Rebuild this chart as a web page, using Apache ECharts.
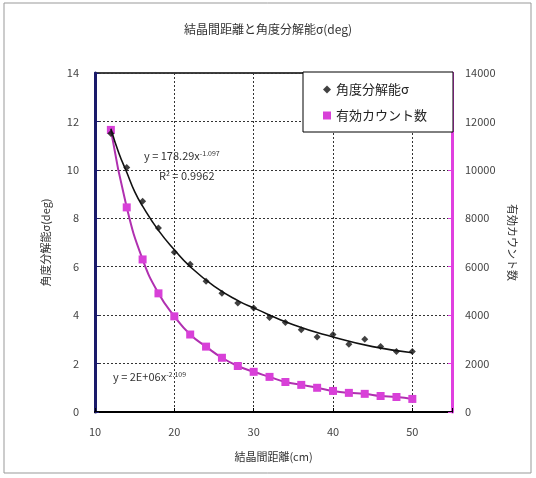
<!DOCTYPE html>
<html><head><meta charset="utf-8">
<script src="https://cdn.jsdelivr.net/npm/echarts@6/dist/echarts.min.js"></script>
<style>html,body{margin:0;padding:0;background:#fff}#c{width:536px;height:478px}</style>
</head><body><div id="c"></div>
<script>
var distances = [12,14,16,18,20,22,24,26,28,30,32,34,36,38,40,42,44,46,48,50];
var resolution = [11.5,10.1,8.7,7.6,6.6,6.1,5.4,4.9,4.5,4.3,3.9,3.7,3.4,3.1,3.2,2.8,3.0,2.7,2.5,2.5];
var counts = [11650,8450,6300,4900,3950,3200,2700,2240,1900,1660,1450,1240,1120,1000,870,790,750,660,620,540];
var trendX = [12,13,14,15,16,18,20,22,25,28,30,35,40,45,50];
var trendY = [11.7,10.7,9.9,9.1,8.5,7.5,6.7,6.0,5.2,4.6,4.3,3.6,3.1,2.7,2.45];
var leftTicks = [0,2,4,6,8,10,12,14];
var rightTicks = [0,2000,4000,6000,8000,10000,12000,14000];
var xTicks = [10,20,30,40,50];

var FONT = '"Noto Sans CJK JP", sans-serif';
function pairs(xs, ys){ return xs.map(function(x,i){ return [x, ys[i]]; }); }

var chart = echarts.init(document.getElementById('c'), null, {renderer:'canvas'});
chart.setOption({
  animation:false,
  backgroundColor:'#fff',
  textStyle:{fontFamily:FONT},
  title:{text:'結晶間距離と角度分解能σ(deg)', left:'center', top:18,
    textStyle:{fontFamily:FONT, fontSize:12, fontWeight:'normal', color:'#333'}},
  grid:{left:95, right:84, top:73, bottom:66, show:true, borderColor:'#000', borderWidth:1.5},
  legend:{
    orient:'vertical', left:303, top:72, padding:[11,26,10,20], itemGap:13,
    borderColor:'#000', borderWidth:1, backgroundColor:'#fff',
    itemWidth:8, itemHeight:8,
    textStyle:{fontFamily:FONT, fontSize:13, color:'#222'},
    data:[{name:'角度分解能σ', icon:'diamond'},{name:'有効カウント数', icon:'rect'}]
  },
  xAxis:{type:'value', min:10, max:55, interval:10,
    name:'結晶間距離(cm)', nameLocation:'middle', nameGap:39,
    nameTextStyle:{fontFamily:FONT, fontSize:11, color:'#333'},
    axisLine:{lineStyle:{color:'#000', width:2}},
    axisTick:{inside:true, length:4, lineStyle:{color:'#000'}},
    axisLabel:{color:'#444', fontSize:11, margin:14,
      formatter:function(v){ return xTicks.indexOf(v)>=0 ? String(v) : ''; }},
    splitLine:{show:true, lineStyle:{color:'#333', type:[2,2], width:1}}
  },
  yAxis:[
    {type:'value', min:0, max:14, interval:2, position:'left',
     name:'角度分解能σ(deg)', nameLocation:'middle', nameGap:44,
     nameTextStyle:{fontFamily:FONT, fontSize:11, color:'#333'},
     axisLine:{show:true, lineStyle:{color:'#1a1a6a', width:3}},
     axisTick:{show:true, inside:true, length:4, lineStyle:{color:'#1a1a6a'}},
     axisLabel:{color:'#444', fontSize:11, margin:16,
       formatter:function(v){ return leftTicks.indexOf(v)>=0 ? String(v) : ''; }},
     splitLine:{show:true, lineStyle:{color:'#333', type:[2,2], width:1}}},
    {type:'value', min:0, max:14000, interval:2000, position:'right',
     name:'有効カウント数', nameLocation:'middle', nameGap:55, nameRotate:-90,
     nameTextStyle:{fontFamily:FONT, fontSize:11, color:'#333'},
     axisLine:{show:true, lineStyle:{color:'#e040e0', width:3}},
     axisTick:{show:true, inside:true, length:4, lineStyle:{color:'#e040e0'}},
     axisLabel:{color:'#444', fontSize:11, margin:13,
       formatter:function(v){ return rightTicks.indexOf(v)>=0 ? String(v) : ''; }},
     splitLine:{show:false}}
  ],
  series:[
    {name:'角度分解能σ', type:'scatter', yAxisIndex:0, symbol:'diamond', symbolSize:7,
     itemStyle:{color:'#111'}, data:pairs(distances, resolution), z:4},
    {name:'trend', type:'line', yAxisIndex:0, smooth:true, showSymbol:false, symbol:'none',
     lineStyle:{color:'#111', width:1.6}, data:pairs(trendX, trendY), z:3, silent:true},
    {name:'有効カウント数', type:'line', yAxisIndex:1, smooth:true, symbol:'rect', symbolSize:8,
     showSymbol:true, lineStyle:{color:'#b030b0', width:2},
     itemStyle:{color:'#d840d8'}, data:pairs(distances, counts), z:2}
  ],
  graphic:[
    {type:'rect', shape:{x:4, y:3, width:527, height:470}, style:{fill:null, stroke:'#999', lineWidth:1}, silent:true},
    {type:'text', left:144, top:150, style:{
      text:'{a|y = 178.29x}{s|-1.097}', rich:{a:{fontSize:11, fill:'#333', fontFamily:FONT}, s:{fontSize:7, fill:'#333', verticalAlign:'top', fontFamily:FONT}}}},
    {type:'text', left:159, top:170, style:{
      text:'{a|R}{s|2}{a| = 0.9962}', rich:{a:{fontSize:11, fill:'#333', fontFamily:FONT}, s:{fontSize:7, fill:'#333', verticalAlign:'top', fontFamily:FONT}}}},
    {type:'text', left:113, top:371, style:{
      text:'{a|y = 2E+06x}{s|-2.109}', rich:{a:{fontSize:11, fill:'#333', fontFamily:FONT}, s:{fontSize:7, fill:'#333', verticalAlign:'top', fontFamily:FONT}}}}
  ]
});
</script></body></html>
